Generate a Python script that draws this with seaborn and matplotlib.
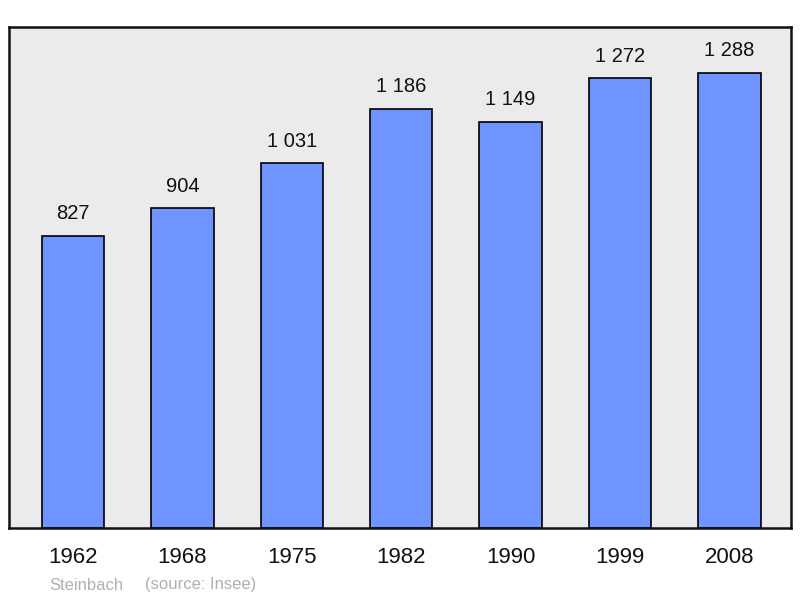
import pandas as pd
import seaborn as sns
import matplotlib.pyplot as plt

# Datos
years = ["1962", "1968", "1975", "1982", "1990", "1999", "2008"]
population = [827, 904, 1031, 1186, 1149, 1272, 1288]
labels = ["827", "904", "1 031", "1 186", "1 149", "1 272", "1 288"]

df = pd.DataFrame({"year": years, "population": population})

sns.set_style("white")
plt.rcParams["font.family"] = ["Liberation Sans", "DejaVu Sans"]

fig = plt.figure(figsize=(8, 5.98), dpi=100)
ax = fig.add_axes([9 / 800, 70 / 598, 782 / 800, 501 / 598])
ax.set_facecolor("#ebebeb")

sns.barplot(data=df, x="year", y="population", color="#7094ff", saturation=1,
            width=0.57, edgecolor="black", linewidth=1.2, ax=ax)

for i, (v, lab) in enumerate(zip(population, labels)):
    ax.annotate(lab, (i, v), xytext=(0, 9), textcoords="offset points",
                ha="center", va="bottom", fontsize=14.5, color="#111111")

ax.set_xlim(-0.585, 6.563)
ax.set_ylim(0, max(population) * 1.1)
ax.set_yticks([])
ax.set_xlabel("")
ax.set_ylabel("")
ax.tick_params(axis="x", length=0, labelsize=16, pad=14, colors="#111111")
for s in ax.spines.values():
    s.set_visible(True)
    s.set_color("#111111")
    s.set_linewidth(1.8)

fig.text(49 / 800, 1 - 585 / 598, "Steinbach", fontsize=12, color="#b0b0b0", va="center")
fig.text(145 / 800, 1 - 585 / 598, "(source: Insee)", fontsize=12, color="#b0b0b0", va="center")

fig.savefig("out.png", dpi=100)
